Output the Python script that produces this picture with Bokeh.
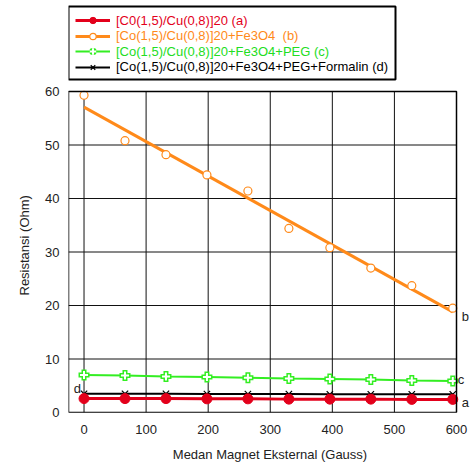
import numpy as np
from bokeh.plotting import figure
from bokeh.models import (Range1d, Legend, LegendItem, Label, FixedTicker,
                          BoxAnnotation, Title)
from bokeh.embed import file_html
from bokeh.resources import INLINE

# ---- data ----
field = [0, 66, 132, 198, 264, 330, 396, 462, 528, 594]
res_a = [2.6, 2.6, 2.6, 2.55, 2.55, 2.5, 2.5, 2.5, 2.45, 2.45]
res_b = [59.3, 50.8, 48.2, 44.4, 41.4, 34.4, 30.8, 27.0, 23.7, 19.5]
res_c = [7.0, 6.9, 6.75, 6.65, 6.5, 6.35, 6.25, 6.15, 6.0, 5.9]
res_d = [3.5, 3.5, 3.5, 3.45, 3.45, 3.45, 3.4, 3.4, 3.4, 3.4]
names = ["[C0(1,5)/Cu(0,8)]20 (a)",
         "[Co(1,5)/Cu(0,8)]20+Fe3O4  (b)",
         "[Co(1,5)/Cu(0,8)]20+Fe3O4+PEG (c)",
         "[Co(1,5)/Cu(0,8)]20+Fe3O4+PEG+Formalin (d)"]
x_ticks = [0, 100, 200, 300, 400, 500, 600]
y_ticks = [0, 10, 20, 30, 40, 50, 60]
x_title = "Medan Magnet Eksternal (Gauss)"
y_title = "Resistansi (Ohm)"

RED, ORANGE, GREEN, BLACK = "#e3001b", "#ff8a1a", "#33ee22", "#000000"
FONT = "Liberation Sans"

# plot box spans x -25..600, y 0..60; the frame is extended so legend and
# end labels (drawn outside the box) are not clipped
X0, X1 = -25, x_ticks[-1]
Y0, Y1 = y_ticks[0], y_ticks[-1]
W, H = 471, 464
BL, BR, BT, BB = 68, 0, 4, 52
box_w_px, box_h_px = 388, 321
ppu_x = box_w_px / (X1 - X0)
ppu_y = box_h_px / (Y1 - Y0)
fw, fh = W - BL - BR, H - BT - BB
x_end = X0 + fw / ppu_x
y_end = Y0 + fh / ppu_y

p = figure(width=W, height=H, output_backend="svg", toolbar_location=None,
           x_range=Range1d(X0, x_end), y_range=Range1d(Y0, y_end),
           min_border_left=BL, min_border_right=BR, min_border_top=BT,
           min_border_bottom=BB)
p.outline_line_color = None
p.xgrid.visible = False
p.ygrid.visible = False

for ax in (p.xaxis[0], p.yaxis[0]):
    ax.major_tick_in = 0
    ax.major_tick_out = 0
    ax.minor_tick_line_color = None
    ax.axis_line_color = None
    ax.major_label_text_font = FONT
    ax.major_label_text_font_size = "13px"
    ax.major_label_text_color = "#222222"
    ax.axis_label_text_font = FONT
    ax.axis_label_text_font_size = "13px"
    ax.axis_label_text_font_style = "normal"
    ax.axis_label_text_color = "#222222"
p.xaxis.ticker = FixedTicker(ticks=x_ticks)
p.yaxis.ticker = FixedTicker(ticks=y_ticks)
p.xaxis.bounds = (X0, X1)
p.yaxis.bounds = (Y0, Y1)
p.xaxis.major_label_standoff = 12
p.yaxis.major_label_standoff = 9
p.xaxis.axis_label = x_title
p.xaxis.axis_label_standoff = 10

# y title as a side title, shifted to sit centred on the plot box
p.add_layout(Title(text=y_title, align="left", offset=117, text_font=FONT,
                   text_font_size="13px", text_font_style="normal",
                   text_color="#222222", standoff=22), "left")

# grid lines limited to the plot box
p.segment(x0=x_ticks, y0=[Y0] * len(x_ticks), x1=x_ticks, y1=[Y1] * len(x_ticks),
          line_color="#111111", line_width=1)
p.segment(x0=[X0] * len(y_ticks), y0=y_ticks, x1=[X1] * len(y_ticks), y1=y_ticks,
          line_color="#111111", line_width=1)
p.add_layout(BoxAnnotation(left=X0, right=X1, bottom=Y0, top=Y1, fill_alpha=0,
                           line_color="black", line_width=1.5, line_alpha=1))

# series b: points + linear fit
coef = np.polyfit(field, res_b, 1)
fit_x = [field[0], field[-1]]
fit_y = list(np.polyval(coef, fit_x))
lb = p.line(fit_x, fit_y, color=ORANGE, line_width=3)
sb = p.scatter(field, res_b, marker="circle", size=8, fill_color="white",
               line_color=ORANGE, line_width=1.2)

# series c
lc = p.line(field, res_c, color=GREEN, line_width=2)
sc1 = p.scatter(field, res_c, marker="cross", size=11, line_color=GREEN, line_width=5)
sc2 = p.scatter(field, res_c, marker="cross", size=8, line_color="white", line_width=2)

# series d
ld = p.line(field, res_d, color=BLACK, line_width=2)
sd = p.scatter(field, res_d, marker="x", size=9, line_color=BLACK, line_width=1.2)

# series a
la = p.line(field, res_a, color=RED, line_width=3)
sa = p.scatter(field, res_a, marker="circle", size=10, fill_color=RED, line_color=RED)

groups = [[la, sa], [lb, sb], [lc, sc1, sc2], [ld, sd]]
colors = [RED, ORANGE, "#22dd22", BLACK]

# legend box (pixels above the plot box bottom / right of its left edge)
LEG_B, LEG_T, LEG_W = 333, 406, 327
p.add_layout(BoxAnnotation(left=X0, right=X0 + LEG_W / ppu_x,
                           bottom=Y0 + LEG_B / ppu_y, top=Y0 + LEG_T / ppu_y,
                           fill_color="white", fill_alpha=1,
                           line_color="black", line_width=2, line_alpha=1))
PAD, LH = 5, 16
ROW0 = 392  # centre of first legend row, px above plot box bottom
common = dict(padding=PAD, spacing=0, label_height=LH, glyph_height=LH,
              glyph_width=35, label_standoff=6, label_text_font=FONT,
              label_text_font_size="13px", margin=0,
              border_line_alpha=0, background_fill_alpha=0)
for i, (n, g, c) in enumerate(zip(names, groups, colors)):
    lg = Legend(items=[LegendItem(label=n, renderers=g)],
                location=(2, ROW0 - i * 15.5 - PAD - LH / 2),
                label_text_color=c, **common)
    p.add_layout(lg, "center")

# end labels
lab = dict(text_font=FONT, text_font_size="13px", text_color="#222222",
           text_baseline="middle")
p.add_layout(Label(x=fit_x[-1], y=fit_y[-1], text="b", x_offset=9, y_offset=-5, **lab))
p.add_layout(Label(x=field[-1], y=res_c[-1], text="c", x_offset=5, y_offset=1, **lab))
p.add_layout(Label(x=field[-1], y=res_a[-1], text="a", x_offset=9, y_offset=-3, **lab))
p.add_layout(Label(x=field[0], y=res_d[0], text="d", x_offset=-3, y_offset=5,
                   text_align="right", **lab))

open("out.html", "w").write(file_html(p, INLINE))
